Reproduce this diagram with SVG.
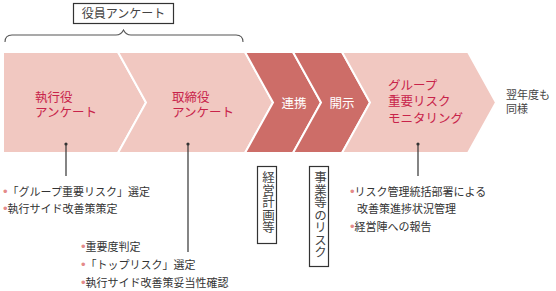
<svg xmlns="http://www.w3.org/2000/svg" width="556" height="291" viewBox="0 0 556 291">
<style>
.lt{fill:#F1C8C1;stroke:#fff;stroke-width:2}
.dk{fill:#CD6D68;stroke:#fff;stroke-width:2}
text{font-family:"Liberation Sans","Noto Sans CJK JP",sans-serif}
.ht{fill:#C8234A;font-size:12.5px}
.wt{fill:#fff;font-size:12.5px}
.bt{fill:#333;font-size:11px}
.bu{fill:#E48A8A;font-size:13px}
.lbl{fill:#444;font-size:12px}
.box{fill:#fff;stroke:#333;stroke-width:1.2}
.ln{stroke:#333;stroke-width:1.2;fill:none}
.vt{fill:#444;font-size:12.5px;writing-mode:vertical-rl}
</style>
<g id="header">
<rect class="box" x="73.5" y="3.5" width="100" height="20"/>
<text class="lbl" x="123.5" y="18" text-anchor="middle">役員アンケート</text>
<path d="M5,42 Q5,35 12,35 L116,35 Q121,35 123.5,30 Q126,35 131,35 L236,35 Q243,35 243,42" fill="none" stroke="#555" stroke-width="1.1"/>
</g>
<g id="n1">
<path class="lt" d="M3,52 L118,52 L146,102.5 L118,153 L3,153 Z"/>
<text class="ht" x="35" y="102">執行役<tspan x="35" dy="15">アンケート</tspan></text>
</g>
<g id="n2">
<path class="lt" d="M118,52 L245,52 L273,102.5 L245,153 L118,153 L146,102.5 Z"/>
<text class="ht" x="172" y="102">取締役<tspan x="172" dy="15">アンケート</tspan></text>
</g>
<g id="n3">
<path class="dk" d="M245,52 L293,52 L321,102.5 L293,153 L245,153 L273,102.5 Z"/>
<text class="wt" x="294" y="107.5" text-anchor="middle">連携</text>
</g>
<g id="n4">
<path class="dk" d="M293,52 L342,52 L370,102.5 L342,153 L293,153 L321,102.5 Z"/>
<text class="wt" x="342" y="107.5" text-anchor="middle">開示</text>
</g>
<g id="n5">
<path class="lt" d="M342,52 L468,52 L496,102.5 L468,153 L342,153 L370,102.5 Z"/>
<text class="ht" x="388" y="89.5">グループ<tspan x="388" dy="16.5">重要リスク</tspan><tspan x="388" dy="16.5">モニタリング</tspan></text>
</g>
<g id="next">
<text class="lbl" x="506" y="99" style="font-size:11px">翌年度も<tspan x="506" dy="14">同様</tspan></text>
</g>
<g id="connectors">
<line class="ln" x1="66" y1="144" x2="66" y2="176"/>
<circle cx="66" cy="144" r="1.6" fill="#333"/>
<line class="ln" x1="188" y1="144" x2="188" y2="252"/>
<circle cx="188" cy="144" r="1.6" fill="#333"/>
<line class="ln" x1="418" y1="144" x2="418" y2="176"/>
<circle cx="418" cy="144" r="1.6" fill="#333"/>
</g>
<g id="notes1">
<text class="bt" x="3" y="196"><tspan class="bu">•</tspan>「グループ重要リスク」選定<tspan x="3" dy="17" class="bu">•</tspan>執行サイド改善策策定</text>
</g>
<g id="notes2">
<text class="bt" x="81" y="251"><tspan class="bu">•</tspan>重要度判定<tspan x="81" dy="18" class="bu">•</tspan>「トップリスク」選定<tspan x="81" dy="18" class="bu">•</tspan>執行サイド改善策妥当性確認</text>
</g>
<g id="notes3">
<text class="bt" x="350" y="196"><tspan class="bu">•</tspan>リスク管理統括部署による<tspan x="357" dy="17">改善策進捗状況管理</tspan><tspan x="350" dy="18" class="bu">•</tspan>経営陣への報告</text>
</g>
<g id="v1">
<rect class="box" x="257.5" y="166.5" width="19" height="77"/>
<text class="vt" x="267" y="171">経営計画等</text>
</g>
<g id="v2">
<rect class="box" x="309.5" y="166.5" width="19" height="100"/>
<text class="vt" x="319" y="171">事業等のリスク</text>
</g>
</svg>
